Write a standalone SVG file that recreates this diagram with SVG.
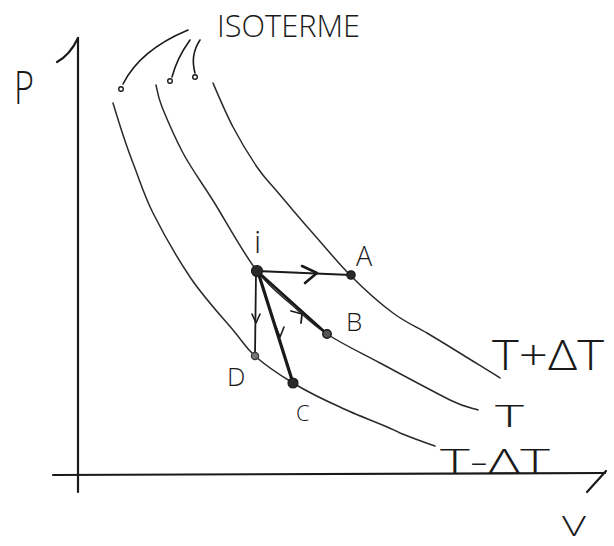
<svg xmlns="http://www.w3.org/2000/svg" width="614" height="546" viewBox="0 0 614 546">
<style>
.ax{fill:none;stroke:#1a1a1a;stroke-width:2.2;stroke-linecap:round}
.iso{fill:none;stroke:#2a2a2a;stroke-width:1.5;stroke-linecap:round}
.ld{fill:none;stroke:#1a1a1a;stroke-width:1.6;stroke-linecap:round}
.cn{fill:none;stroke:#1a1a1a;stroke-linecap:round;stroke-linejoin:round}
.tx{font-family:"Open Sans","Liberation Sans",Arial,sans-serif;font-weight:300;fill:#1a1a1a}
.pt{fill:#2a2a2a;stroke:#1a1a1a;stroke-width:1.2}
</style>
<rect width="614" height="546" fill="#ffffff"/>

<g id="axes">
  <path class="ax" d="M78,38 L78,492"/>
  <path class="ax" d="M78,38 Q70,55 57,62"/>
  <path class="ax" d="M53,475 L605,473"/>
  <path class="ax" d="M587,492 L606,471"/>
  <text class="tx" x="14" y="104" font-size="46" textLength="20" lengthAdjust="spacingAndGlyphs">P</text>
  <text class="tx" x="562" y="536" font-size="28" textLength="24" lengthAdjust="spacingAndGlyphs">V</text>
</g>

<g id="isotherm-low">
  <path class="iso" d="M113,103 C116,113 126,145 133,163 C140,181 143.5,194 153,213 C162.5,232 177,257.5 190,277 C203,296.5 222,317 233,330 C244,343 245,347 255,356 C265,365 279,374.5 293,383 C307,391.5 322,399 340,407 C358,416 390,427 400,433 C410,437 429,444 435,446"/>
  <text class="tx" x="440" y="474" font-size="35" textLength="110" lengthAdjust="spacingAndGlyphs">T-ΔT</text>
</g>

<g id="isotherm-mid">
  <path class="iso" d="M156,85 C157,89 157.5,95.7 162,107 C166.5,118 174,136 183,153 C192,170 205,187 217,207 C229,227 244.5,255 257,271 C269.5,287 280,294.5 292,305 C303.7,315.5 312,324 327,334 C341.7,343.7 359.5,352 380,363 C400.5,374 434,392 450,400 C466,408 473,408 478,410"/>
  <text class="tx" x="495" y="427" font-size="31" textLength="29" lengthAdjust="spacingAndGlyphs">T</text>
</g>

<g id="isotherm-high">
  <path class="iso" d="M213,83 C216,90 225.7,113 233,127 C240.3,141 250,156.7 257,167 C264,177.3 266,178.5 275,189 C284,199.5 297,215.5 310,230 C323,244.5 337,262 351,276 C365,290 380,303.5 393,313 C405.7,322.5 415,326 427,333 C438.7,340 451,347.5 463,355 C475,362.5 494,374 500,378"/>
  <text class="tx" x="492" y="370" font-size="42" textLength="112" lengthAdjust="spacingAndGlyphs">T+ΔT</text>
</g>

<g id="isoterme-label">
  <text class="tx" x="217" y="37" font-size="32" textLength="143" lengthAdjust="spacingAndGlyphs">ISOTERME</text>
  <path class="ld" d="M188,30 Q140,50 123,84"/>
  <circle cx="121" cy="89" r="2.3" fill="none" stroke="#1a1a1a" stroke-width="1.4"/>
  <path class="ld" d="M190,40 Q177,58 172,77"/>
  <circle cx="170" cy="81" r="2.3" fill="none" stroke="#1a1a1a" stroke-width="1.4"/>
  <path class="ld" d="M200,40 Q190,55 195,73"/>
  <circle cx="195" cy="77" r="2.3" fill="none" stroke="#1a1a1a" stroke-width="1.4"/>
</g>

<g id="connectors">
  <path class="cn" stroke-width="2" d="M257,271 L351,275"/>
  <path class="cn" stroke-width="2.6" d="M302,266 L317,273 L305,283"/>
  <path class="cn" stroke-width="2.6" d="M257,271 L327,334"/>
  <path class="cn" stroke-width="1.8" d="M291,311 L302,314 L301,323"/>
  <path class="cn" stroke-width="1.8" d="M256,272 L255,356"/>
  <path class="cn" stroke-width="1.6" d="M252,314 L256,323 L260,314"/>
  <path class="cn" stroke-width="3.2" d="M258,272 L293,383"/>
  <path class="cn" stroke-width="1.6" d="M276,327 L280,337 L284,327"/>
</g>

<g id="node-i">
  <circle class="pt" cx="257" cy="271" r="5.5"/>
  <text class="tx" x="254" y="253" font-size="32">i</text>
</g>
<g id="node-A">
  <circle class="pt" cx="351" cy="275" r="4.2"/>
  <text class="tx" x="356" y="266" font-size="27">A</text>
</g>
<g id="node-B">
  <circle cx="327" cy="334" r="4.2" fill="#555" stroke="#1a1a1a" stroke-width="1.5"/>
  <text class="tx" x="346" y="331" font-size="26">B</text>
</g>
<g id="node-D">
  <circle cx="255" cy="356" r="3.6" fill="#777" stroke="#333" stroke-width="1.2"/>
  <text class="tx" x="227" y="386" font-size="26">D</text>
</g>
<g id="node-C">
  <circle class="pt" cx="293" cy="383" r="5"/>
  <text class="tx" x="296" y="421" font-size="22">C</text>
</g>
</svg>
